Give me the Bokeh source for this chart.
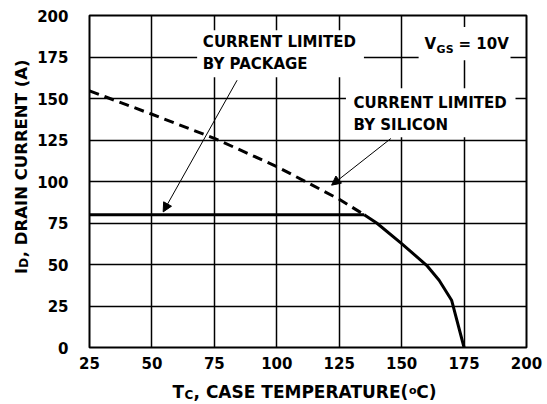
import math
from bokeh.plotting import figure
from bokeh.layouts import row, column
from bokeh.models import (Range1d, FixedTicker, Label, BoxAnnotation, Arrow, NormalHead)
from bokeh.embed import file_html
from bokeh.resources import INLINE

# ---- data ----
x_ticks = [25, 50, 75, 100, 125, 150, 175, 200]
y_ticks = [0, 25, 50, 75, 100, 125, 150, 175, 200]

pkg_T = [25, 135]
pkg_I = [80, 80]

si_dash_T = [25, 50, 75, 100, 125, 135]
si_dash_I = [154.6, 140.5, 126.0, 109.0, 89.3, 80.0]

si_solid_T = [135, 140, 150, 160, 165, 170, 175]
si_solid_I = [80.0, 75.0, 62.6, 49.5, 40.5, 28.5, 0.0]

FONT = "DejaVu Sans"
YW = 34          # width of the y-title strip
MAIN_H = 375     # height of the main chart canvas
XH = 27          # height of the x-title strip
TOTAL_W = 545
TOTAL_H = MAIN_H + XH

# ---------------- main chart ----------------
p = figure(width=TOTAL_W - YW, height=MAIN_H, output_backend="svg", toolbar_location=None,
           x_range=Range1d(25, 200), y_range=Range1d(0, 200),
           min_border_left=88 - YW, min_border_right=19, min_border_top=15,
           min_border_bottom=MAIN_H - 15 - 332)
p.background_fill_color = "white"
p.border_fill_color = "white"
p.outline_line_color = "black"
p.outline_line_width = 2

for ax in (p.xaxis[0], p.yaxis[0]):
    ax.axis_line_color = None
    ax.major_tick_line_color = None
    ax.minor_tick_line_color = None
    ax.major_tick_out = 0
    ax.major_tick_in = 0
    ax.major_label_text_font = FONT
    ax.major_label_text_font_style = "bold"
    ax.major_label_text_font_size = "15px"
    ax.major_label_text_color = "black"
p.xaxis.ticker = FixedTicker(ticks=x_ticks)
p.yaxis.ticker = FixedTicker(ticks=y_ticks)
p.xaxis.major_label_standoff = 9
p.yaxis.major_label_standoff = 21

p.xgrid.ticker = FixedTicker(ticks=x_ticks)
p.ygrid.ticker = FixedTicker(ticks=y_ticks)
for g in (p.xgrid[0], p.ygrid[0]):
    g.grid_line_color = "black"
    g.grid_line_width = 1.5
    g.grid_line_alpha = 1.0

# curves
p.line(pkg_T, pkg_I, line_color="black", line_width=3)
p.line(si_dash_T, si_dash_I, line_color="black", line_width=3, line_dash="10 6")
p.line(si_solid_T, si_solid_I, line_color="black", line_width=3)

# white boxes behind annotation texts
for l, r, b, t in [(68.1, 134.9, 162.8, 191.1), (156.8, 193.6, 173.0, 193.0), (127.7, 195.6, 126.7, 156.2)]:
    p.add_layout(BoxAnnotation(left=l, right=r, bottom=b, top=t, fill_color="white",
                               fill_alpha=1.0, line_color=None))

def lab(fig, x, y, text, size="15px", align="left", baseline="middle", angle=0):
    fig.add_layout(Label(x=x, y=y, text=text, text_font=FONT, text_font_style="bold",
                         text_font_size=size, text_align=align, text_baseline=baseline,
                         angle=angle, text_color="black"))

lab(p, 70.4, 184.1, "CURRENT LIMITED")
lab(p, 70.4, 170.7, "BY PACKAGE")
lab(p, 130.75, 147.2, "CURRENT LIMITED")
lab(p, 130.75, 133.9, "BY SILICON")

lab(p, 159.2, 183.1, "V")
lab(p, 164.0, 179.7, "GS", size="11px")
lab(p, 172.8, 183.1, "= 10V")

# arrows
p.add_layout(Arrow(end=NormalHead(size=9, fill_color="black", line_color="black", line_width=1),
                   x_start=84.1, y_start=161.0, x_end=54.5, y_end=81.7,
                   line_color="black", line_width=1))
p.add_layout(Arrow(end=NormalHead(size=9, fill_color="black", line_color="black", line_width=1),
                   x_start=145.7, y_start=125.9, x_end=121.95, y_end=97.8,
                   line_color="black", line_width=1))

# ---------------- helper canvases for the axis titles ----------------
def blank(w, h):
    f = figure(width=w, height=h, output_backend="svg", toolbar_location=None,
               x_axis_type=None, y_axis_type=None,
               x_range=Range1d(0, w), y_range=Range1d(0, h),
               min_border=0, min_border_left=0, min_border_right=0,
               min_border_top=0, min_border_bottom=0)
    f.outline_line_color = None
    f.background_fill_color = "white"
    f.border_fill_color = "white"
    return f

# x title strip spanning the full page width (local x == page x, y up)
xt = blank(TOTAL_W, XH)
def xmid(page_y):
    return TOTAL_H - page_y
lab(xt, 172.0, xmid(391.0), "T", size="17px")
lab(xt, 184.0, xmid(394.5), "C", size="12px")
lab(xt, 193.0, xmid(391.0), ", CASE TEMPERATURE(", size="17px")
lab(xt, 408.5, xmid(390.0), "o", size="11px")
lab(xt, 436.0, xmid(391.0), "C)", size="17px", align="right")

# y title strip (local pixel coords, y up), rotated text reading upward
yt = blank(YW, MAIN_H)
def ymid(page_y):
    return MAIN_H - page_y
lab(yt, 21.0, ymid(292.0), "I", size="16.5px", angle=math.pi / 2)
lab(yt, 23.5, ymid(285.0), "D", size="12px", angle=math.pi / 2)
lab(yt, 21.0, ymid(273.0), ", DRAIN CURRENT (A)", size="16.5px", angle=math.pi / 2)

layout = column(row(yt, p), xt)

open("out.html", "w").write(file_html(layout, INLINE))
